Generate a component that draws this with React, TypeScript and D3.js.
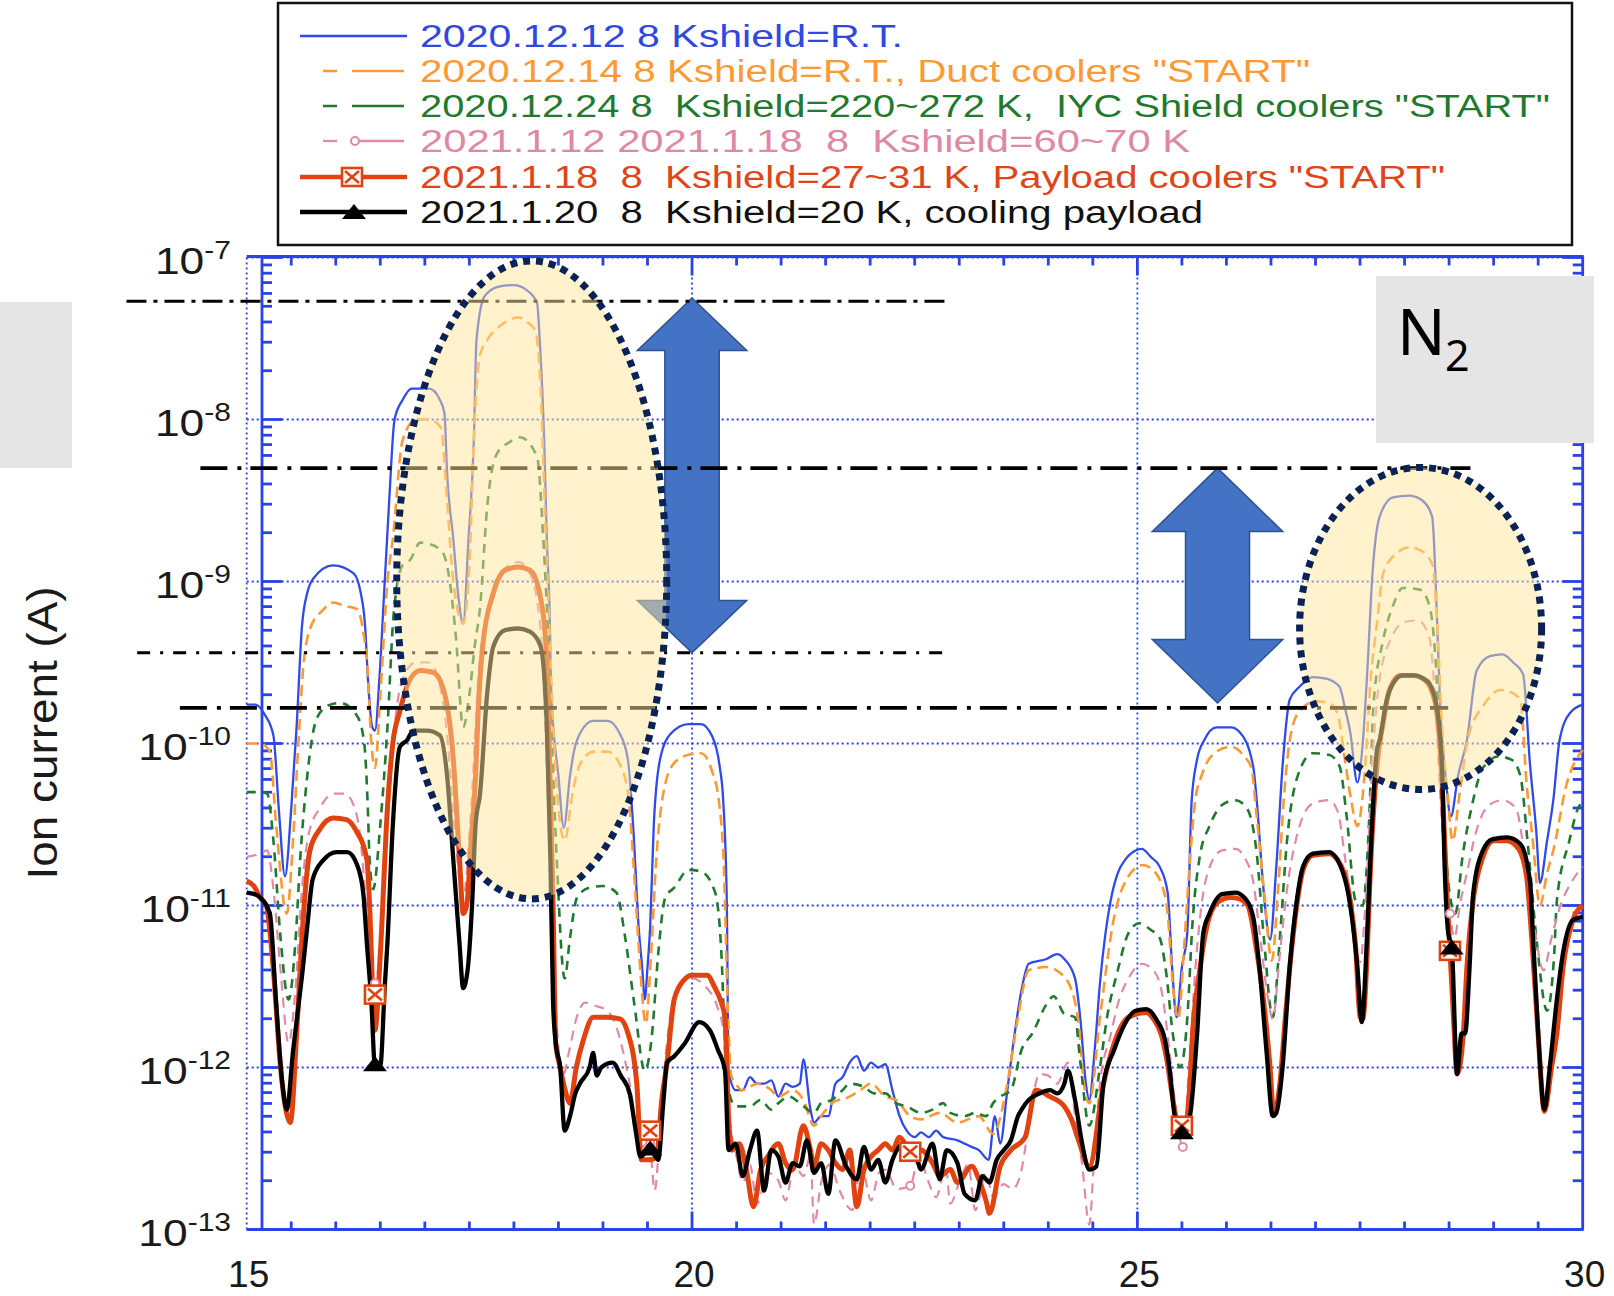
import React from 'react';
import * as d3 from 'd3';

type Pt = [number, number]; // [mass number, log10 of ion current in A]

const blueRT: Pt[] = [
  [15.0,-9.76],[15.1,-9.76],[15.2,-9.82],[15.3,-9.95],[15.36,-10.4],[15.43,-10.82],[15.5,-10.4],[15.56,-9.9],[15.62,-9.28],[15.68,-9.07],[15.75,-8.98],[15.97,-8.9],[16.2,-8.95],[16.28,-9.07],[16.33,-9.28],[16.36,-9.59],[16.41,-9.9],[16.44,-9.92],[16.49,-9.6],[16.54,-9.1],[16.6,-8.5],[16.66,-8.0],[16.75,-7.88],[16.85,-7.81],[17.05,-7.81],[17.17,-7.88],[17.22,-7.96],[17.25,-8.33],[17.32,-8.74],[17.38,-9.11],[17.43,-9.26],[17.49,-8.74],[17.55,-8.13],[17.58,-7.51],[17.67,-7.24],[17.83,-7.18],[18.0,-7.17],[18.14,-7.2],[18.26,-7.28],[18.29,-7.51],[18.34,-8.13],[18.37,-8.74],[18.4,-9.16],[18.42,-9.69],[18.5,-10.2],[18.56,-10.52],[18.63,-10.2],[18.67,-10.06],[18.74,-9.94],[18.89,-9.86],[19.05,-9.86],[19.19,-9.94],[19.28,-10.1],[19.34,-10.52],[19.4,-11.13],[19.44,-11.38],[19.47,-11.58],[19.5,-11.38],[19.53,-11.13],[19.57,-10.51],[19.64,-10.1],[19.76,-9.94],[19.96,-9.88],[20.1,-9.88],[20.23,-9.96],[20.31,-10.14],[20.35,-10.35],[20.39,-10.97],[20.41,-12.02],[20.49,-12.14],[20.57,-12.14],[20.65,-12.06],[20.73,-12.1],[20.81,-12.1],[20.89,-12.08],[20.97,-12.18],[21.05,-12.1],[21.13,-12.12],[21.21,-12.1],[21.25,-11.95],[21.33,-12.26],[21.37,-12.34],[21.45,-12.3],[21.53,-12.3],[21.61,-12.1],[21.69,-12.06],[21.77,-11.97],[21.85,-11.93],[21.93,-12.02],[22.01,-11.97],[22.09,-12.0],[22.17,-11.98],[22.25,-12.14],[22.33,-12.3],[22.41,-12.39],[22.5,-12.43],[22.57,-12.4],[22.66,-12.43],[22.74,-12.39],[22.82,-12.43],[22.98,-12.45],[23.06,-12.47],[23.14,-12.49],[23.22,-12.51],[23.33,-12.57],[23.4,-12.3],[23.46,-12.47],[23.54,-12.14],[23.62,-11.8],[23.7,-11.52],[23.78,-11.36],[23.98,-11.33],[24.1,-11.3],[24.18,-11.33],[24.3,-11.45],[24.36,-11.7],[24.42,-12.09],[24.46,-12.2],[24.52,-11.9],[24.58,-11.48],[24.64,-11.18],[24.7,-10.97],[24.78,-10.8],[24.86,-10.72],[24.98,-10.66],[25.05,-10.65],[25.15,-10.7],[25.25,-10.76],[25.34,-10.92],[25.39,-11.38],[25.44,-11.69],[25.5,-11.38],[25.56,-11.17],[25.61,-10.35],[25.67,-10.1],[25.75,-9.98],[25.89,-9.9],[26.05,-9.9],[26.15,-9.93],[26.3,-10.14],[26.34,-10.35],[26.41,-10.86],[26.49,-11.21],[26.56,-10.76],[26.63,-10.14],[26.71,-9.73],[26.82,-9.65],[26.97,-9.59],[27.12,-9.6],[27.27,-9.65],[27.33,-9.78],[27.39,-9.93],[27.47,-10.24],[27.53,-10.0],[27.58,-9.57],[27.64,-8.95],[27.72,-8.6],[27.87,-8.48],[28.05,-8.47],[28.2,-8.5],[28.31,-8.6],[28.36,-9.16],[28.4,-9.77],[28.46,-10.2],[28.52,-10.45],[28.6,-10.2],[28.7,-9.98],[28.81,-9.55],[28.96,-9.46],[29.1,-9.45],[29.22,-9.5],[29.33,-9.57],[29.41,-10.14],[29.48,-10.55],[29.52,-10.86],[29.6,-10.6],[29.67,-10.35],[29.74,-9.98],[29.86,-9.81],[30.0,-9.76]
];

const orangeDuct: Pt[] = [
  [15.0,-10.0],[15.15,-10.0],[15.26,-10.05],[15.33,-10.5],[15.45,-11.05],[15.52,-10.6],[15.58,-10.0],[15.64,-9.5],[15.72,-9.28],[15.85,-9.18],[15.97,-9.13],[16.1,-9.15],[16.24,-9.17],[16.32,-9.35],[16.35,-9.48],[16.4,-10.0],[16.44,-10.15],[16.5,-9.7],[16.58,-9.0],[16.64,-8.74],[16.75,-8.13],[16.9,-8.0],[17.05,-8.0],[17.18,-8.05],[17.25,-8.5],[17.32,-9.0],[17.43,-9.26],[17.5,-8.9],[17.56,-8.0],[17.62,-7.6],[17.7,-7.51],[17.85,-7.42],[18.05,-7.37],[18.15,-7.4],[18.24,-7.45],[18.3,-7.8],[18.35,-8.6],[18.4,-9.3],[18.45,-10.0],[18.57,-10.6],[18.66,-10.3],[18.75,-10.12],[18.9,-10.05],[19.05,-10.05],[19.18,-10.12],[19.28,-10.3],[19.35,-10.8],[19.42,-11.4],[19.48,-11.73],[19.54,-11.3],[19.6,-10.7],[19.68,-10.3],[19.8,-10.12],[19.96,-10.07],[20.1,-10.06],[20.23,-10.18],[20.3,-10.35],[20.36,-10.8],[20.4,-11.6],[20.44,-12.05],[20.49,-12.1],[20.57,-12.14],[20.73,-12.1],[20.89,-12.14],[20.97,-12.18],[21.13,-12.14],[21.25,-12.2],[21.37,-12.36],[21.45,-12.3],[21.57,-12.22],[21.77,-12.18],[21.89,-12.14],[22.01,-12.1],[22.17,-12.18],[22.29,-12.2],[22.45,-12.3],[22.57,-12.32],[22.78,-12.28],[22.98,-12.34],[23.22,-12.3],[23.38,-12.41],[23.54,-12.1],[23.66,-11.69],[23.78,-11.4],[23.98,-11.38],[24.14,-11.42],[24.26,-11.52],[24.34,-11.73],[24.4,-12.1],[24.46,-12.22],[24.58,-11.69],[24.74,-11.07],[24.9,-10.82],[25.06,-10.75],[25.15,-10.77],[25.28,-10.88],[25.34,-11.05],[25.4,-11.5],[25.46,-11.7],[25.52,-11.3],[25.58,-10.8],[25.65,-10.35],[25.72,-10.2],[25.89,-10.05],[26.05,-10.02],[26.2,-10.08],[26.28,-10.15],[26.34,-10.45],[26.42,-10.9],[26.51,-11.34],[26.58,-10.9],[26.65,-10.3],[26.72,-9.95],[26.82,-9.8],[27.0,-9.74],[27.15,-9.75],[27.25,-9.82],[27.33,-10.1],[27.4,-10.35],[27.47,-10.51],[27.55,-10.2],[27.62,-9.6],[27.69,-9.26],[27.76,-8.95],[27.9,-8.83],[28.05,-8.79],[28.15,-8.8],[28.31,-8.89],[28.37,-9.3],[28.42,-9.9],[28.48,-10.3],[28.54,-10.6],[28.62,-10.3],[28.72,-9.95],[28.88,-9.77],[29.07,-9.67],[29.18,-9.68],[29.3,-9.73],[29.37,-10.25],[29.44,-10.6],[29.52,-11.0],[29.6,-10.8],[29.67,-10.66],[29.82,-10.25],[30.0,-10.04]
];

const greenIYC: Pt[] = [
  [15.0,-10.3],[15.15,-10.3],[15.23,-10.31],[15.3,-10.6],[15.38,-11.2],[15.47,-11.58],[15.55,-11.2],[15.6,-10.72],[15.68,-10.2],[15.79,-9.84],[15.94,-9.76],[16.05,-9.75],[16.24,-9.83],[16.32,-10.0],[16.36,-10.4],[16.38,-10.72],[16.42,-10.9],[16.5,-10.5],[16.58,-9.9],[16.65,-9.2],[16.75,-8.9],[16.83,-8.87],[16.95,-8.76],[17.06,-8.77],[17.2,-8.82],[17.28,-9.0],[17.35,-9.35],[17.43,-9.9],[17.5,-9.7],[17.56,-9.4],[17.62,-9.16],[17.7,-8.54],[17.81,-8.21],[17.95,-8.14],[18.07,-8.11],[18.26,-8.23],[18.33,-8.74],[18.37,-9.16],[18.42,-9.9],[18.48,-10.7],[18.57,-11.45],[18.63,-11.2],[18.71,-10.95],[18.85,-10.89],[19.0,-10.88],[19.15,-10.92],[19.25,-11.2],[19.35,-11.6],[19.47,-12.02],[19.55,-11.8],[19.62,-11.3],[19.7,-10.95],[19.8,-10.89],[19.96,-10.78],[20.1,-10.79],[20.26,-10.92],[20.33,-11.3],[20.38,-12.0],[20.41,-12.14],[20.49,-12.24],[20.65,-12.24],[20.77,-12.2],[20.89,-12.26],[20.97,-12.22],[21.09,-12.18],[21.21,-12.22],[21.37,-12.28],[21.45,-12.22],[21.57,-12.2],[21.69,-12.14],[21.77,-12.1],[21.93,-12.12],[22.05,-12.16],[22.17,-12.16],[22.29,-12.22],[22.41,-12.24],[22.57,-12.28],[22.7,-12.26],[22.82,-12.22],[22.9,-12.28],[23.06,-12.3],[23.18,-12.28],[23.3,-12.3],[23.38,-12.22],[23.46,-12.18],[23.58,-12.14],[23.7,-11.89],[23.82,-11.79],[23.98,-11.61],[24.06,-11.56],[24.18,-11.67],[24.3,-11.69],[24.36,-11.97],[24.46,-12.36],[24.58,-12.0],[24.66,-11.69],[24.78,-11.4],[24.9,-11.17],[25.02,-11.11],[25.15,-11.15],[25.25,-11.2],[25.32,-11.4],[25.4,-11.8],[25.48,-12.0],[25.56,-11.7],[25.62,-11.1],[25.7,-10.7],[25.81,-10.51],[25.95,-10.38],[26.1,-10.35],[26.23,-10.4],[26.34,-10.68],[26.42,-11.2],[26.52,-11.69],[26.6,-11.2],[26.68,-10.6],[26.8,-10.2],[26.97,-10.06],[27.15,-10.07],[27.27,-10.14],[27.35,-10.45],[27.45,-10.97],[27.53,-11.0],[27.6,-10.5],[27.65,-9.77],[27.76,-9.36],[27.87,-9.15],[27.98,-9.04],[28.17,-9.05],[28.28,-9.15],[28.35,-9.5],[28.42,-10.3],[28.5,-10.9],[28.57,-11.05],[28.65,-10.7],[28.75,-10.4],[28.88,-10.15],[29.05,-10.08],[29.2,-10.1],[29.3,-10.2],[29.38,-10.6],[29.48,-11.2],[29.6,-11.65],[29.68,-11.3],[29.71,-10.97],[29.85,-10.6],[29.94,-10.41],[30.0,-10.36]
];

const pinkShield: Pt[] = [
  [15.0,-10.7],[15.15,-10.68],[15.23,-10.66],[15.3,-10.9],[15.38,-11.4],[15.47,-11.85],[15.55,-11.5],[15.62,-10.9],[15.7,-10.55],[15.82,-10.4],[15.97,-10.31],[16.1,-10.31],[16.2,-10.38],[16.28,-10.6],[16.34,-11.0],[16.4,-11.45],[16.44,-11.55],[16.5,-11.2],[16.58,-10.5],[16.66,-9.9],[16.75,-9.6],[16.9,-9.5],[17.05,-9.5],[17.15,-9.6],[17.25,-9.95],[17.33,-10.5],[17.43,-10.95],[17.52,-10.4],[17.6,-9.6],[17.7,-9.2],[17.85,-8.95],[18.05,-8.88],[18.18,-8.95],[18.3,-9.3],[18.38,-10.3],[18.45,-11.4],[18.55,-12.05],[18.62,-11.9],[18.7,-11.7],[18.8,-11.6],[18.92,-11.62],[19.05,-11.65],[19.15,-11.75],[19.3,-12.1],[19.42,-12.5],[19.52,-12.45],[19.58,-12.76],[19.66,-12.2],[19.75,-11.7],[19.85,-11.5],[20.0,-11.45],[20.15,-11.5],[20.28,-11.62],[20.36,-11.8],[20.42,-12.3],[20.5,-12.55],[20.57,-12.71],[20.65,-12.6],[20.73,-12.84],[20.85,-12.65],[20.97,-12.7],[21.05,-12.82],[21.15,-12.6],[21.25,-12.67],[21.33,-12.55],[21.37,-12.97],[21.45,-12.71],[21.55,-12.6],[21.65,-12.75],[21.8,-12.88],[21.9,-12.6],[22.01,-12.82],[22.1,-12.65],[22.17,-12.63],[22.3,-12.75],[22.45,-12.73],[22.55,-12.55],[22.65,-12.7],[22.74,-12.8],[22.85,-12.62],[22.9,-12.84],[23.0,-12.71],[23.1,-12.6],[23.18,-12.88],[23.3,-12.65],[23.38,-12.8],[23.5,-12.72],[23.6,-12.75],[23.7,-12.63],[23.78,-12.36],[23.9,-12.04],[24.0,-12.05],[24.1,-12.1],[24.22,-11.97],[24.3,-12.3],[24.38,-12.6],[24.46,-12.97],[24.52,-12.5],[24.58,-12.1],[24.7,-11.8],[24.78,-11.61],[24.9,-11.45],[25.05,-11.36],[25.18,-11.4],[25.28,-11.55],[25.36,-11.9],[25.44,-12.3],[25.51,-12.49],[25.58,-12.0],[25.65,-11.4],[25.72,-11.0],[25.82,-10.75],[25.95,-10.66],[26.1,-10.65],[26.22,-10.72],[26.3,-10.85],[26.38,-11.2],[26.46,-11.55],[26.52,-11.7],[26.6,-11.3],[26.68,-10.9],[26.8,-10.55],[26.97,-10.37],[27.15,-10.35],[27.25,-10.42],[27.33,-10.7],[27.42,-11.1],[27.5,-11.35],[27.57,-10.9],[27.64,-10.1],[27.72,-9.6],[27.85,-9.35],[28.0,-9.25],[28.15,-9.24],[28.28,-9.35],[28.34,-9.7],[28.42,-10.5],[28.51,-11.05],[28.56,-11.2],[28.62,-11.0],[28.7,-10.8],[28.8,-10.55],[28.95,-10.38],[29.1,-10.35],[29.25,-10.4],[29.35,-10.7],[29.45,-11.1],[29.56,-11.4],[29.65,-11.2],[29.75,-11.0],[29.88,-10.85],[30.0,-10.76]
];

const redPayload: Pt[] = [
  [15.0,-10.85],[15.08,-10.88],[15.15,-10.95],[15.22,-11.0],[15.3,-11.4],[15.38,-12.0],[15.49,-12.34],[15.56,-11.8],[15.62,-11.2],[15.71,-10.66],[15.82,-10.53],[15.97,-10.46],[16.12,-10.47],[16.22,-10.53],[16.35,-10.72],[16.38,-11.0],[16.42,-11.6],[16.44,-11.77],[16.5,-11.3],[16.58,-10.4],[16.64,-10.0],[16.72,-9.8],[16.82,-9.62],[16.95,-9.55],[17.09,-9.56],[17.2,-9.65],[17.32,-10.1],[17.39,-10.72],[17.43,-11.05],[17.47,-11.0],[17.52,-10.6],[17.57,-10.2],[17.6,-9.79],[17.65,-9.4],[17.77,-9.07],[17.9,-8.93],[18.05,-8.91],[18.18,-8.93],[18.28,-9.05],[18.37,-9.48],[18.41,-10.31],[18.44,-11.0],[18.47,-11.85],[18.52,-12.0],[18.58,-12.15],[18.63,-12.22],[18.7,-12.0],[18.78,-11.83],[18.89,-11.69],[19.05,-11.69],[19.19,-11.7],[19.27,-11.77],[19.38,-12.1],[19.43,-12.57],[19.52,-12.57],[19.6,-12.55],[19.66,-12.2],[19.72,-11.97],[19.8,-11.58],[19.91,-11.46],[20.0,-11.43],[20.17,-11.43],[20.25,-11.5],[20.33,-11.6],[20.37,-11.69],[20.41,-12.3],[20.45,-12.51],[20.53,-12.47],[20.61,-12.63],[20.69,-12.86],[20.77,-12.63],[20.85,-12.55],[20.97,-12.47],[21.05,-12.59],[21.13,-12.63],[21.25,-12.36],[21.33,-12.51],[21.37,-12.61],[21.45,-12.47],[21.53,-12.51],[21.61,-12.59],[21.69,-12.63],[21.77,-12.51],[21.85,-12.86],[21.93,-12.63],[22.01,-12.55],[22.09,-12.51],[22.17,-12.47],[22.25,-12.51],[22.33,-12.43],[22.45,-12.51],[22.57,-12.51],[22.7,-12.59],[22.78,-12.67],[22.9,-12.63],[22.98,-12.71],[23.14,-12.61],[23.22,-12.69],[23.3,-12.82],[23.34,-12.9],[23.46,-12.61],[23.58,-12.51],[23.74,-12.43],[23.86,-12.14],[24.02,-12.18],[24.18,-12.24],[24.26,-12.32],[24.34,-12.45],[24.46,-12.61],[24.62,-12.1],[24.74,-11.85],[24.9,-11.69],[25.1,-11.66],[25.18,-11.7],[25.27,-11.8],[25.33,-11.95],[25.4,-12.2],[25.47,-12.38],[25.53,-12.38],[25.59,-12.1],[25.62,-11.79],[25.7,-11.4],[25.78,-11.13],[25.9,-10.98],[26.05,-10.95],[26.15,-10.96],[26.24,-11.0],[26.34,-11.28],[26.42,-11.6],[26.49,-12.0],[26.53,-12.28],[26.6,-12.1],[26.66,-11.7],[26.71,-11.39],[26.79,-11.0],[26.86,-10.78],[26.97,-10.69],[27.15,-10.68],[27.25,-10.72],[27.39,-10.97],[27.45,-11.25],[27.5,-11.69],[27.53,-11.7],[27.58,-11.3],[27.61,-10.86],[27.69,-10.14],[27.76,-9.87],[27.83,-9.67],[27.95,-9.58],[28.1,-9.58],[28.21,-9.6],[28.3,-9.67],[28.36,-9.8],[28.4,-10.04],[28.43,-10.35],[28.48,-10.97],[28.51,-11.28],[28.55,-11.7],[28.59,-12.04],[28.66,-11.79],[28.7,-11.38],[28.77,-10.97],[28.88,-10.7],[29.0,-10.6],[29.15,-10.6],[29.28,-10.65],[29.37,-10.82],[29.44,-11.3],[29.5,-11.8],[29.57,-12.27],[29.65,-12.0],[29.71,-11.79],[29.78,-11.38],[29.89,-11.09],[30.0,-11.0]
];

const blackCooling: Pt[] = [
  [15.0,-10.92],[15.09,-10.93],[15.15,-10.95],[15.26,-11.05],[15.33,-11.6],[15.4,-12.1],[15.45,-12.26],[15.52,-11.9],[15.62,-11.44],[15.68,-11.13],[15.74,-10.84],[15.86,-10.72],[16.01,-10.67],[16.13,-10.67],[16.24,-10.75],[16.31,-10.93],[16.35,-11.24],[16.4,-11.6],[16.44,-11.99],[16.5,-11.99],[16.55,-11.5],[16.58,-11.23],[16.64,-10.51],[16.72,-10.02],[16.8,-9.98],[16.87,-9.92],[17.02,-9.92],[17.17,-9.95],[17.25,-10.2],[17.32,-10.72],[17.39,-11.24],[17.43,-11.51],[17.48,-11.4],[17.53,-11.0],[17.57,-10.5],[17.62,-10.31],[17.7,-9.69],[17.77,-9.4],[17.9,-9.3],[18.05,-9.29],[18.18,-9.31],[18.3,-9.4],[18.37,-9.9],[18.41,-10.72],[18.44,-11.6],[18.47,-11.85],[18.52,-12.0],[18.57,-12.39],[18.63,-12.3],[18.69,-12.16],[18.74,-12.1],[18.85,-12.0],[18.89,-11.91],[18.93,-12.05],[18.98,-12.0],[19.11,-11.97],[19.2,-12.05],[19.3,-12.16],[19.37,-12.4],[19.42,-12.55],[19.53,-12.5],[19.62,-12.57],[19.68,-12.2],[19.72,-11.97],[19.8,-11.93],[19.92,-11.85],[20.08,-11.72],[20.2,-11.77],[20.29,-11.89],[20.37,-12.02],[20.41,-12.51],[20.49,-12.47],[20.57,-12.67],[20.65,-12.51],[20.73,-12.39],[20.81,-12.76],[20.89,-12.51],[20.97,-12.55],[21.05,-12.71],[21.13,-12.59],[21.21,-12.61],[21.29,-12.45],[21.37,-12.65],[21.45,-12.59],[21.53,-12.78],[21.61,-12.45],[21.73,-12.61],[21.85,-12.69],[21.93,-12.49],[22.01,-12.63],[22.09,-12.57],[22.17,-12.71],[22.25,-12.57],[22.37,-12.47],[22.5,-12.51],[22.57,-12.63],[22.7,-12.47],[22.78,-12.69],[22.86,-12.51],[22.98,-12.59],[23.06,-12.78],[23.18,-12.82],[23.26,-12.67],[23.34,-12.71],[23.42,-12.57],[23.5,-12.51],[23.58,-12.45],[23.66,-12.3],[23.7,-12.26],[23.78,-12.2],[23.9,-12.16],[24.02,-12.14],[24.1,-12.16],[24.18,-12.1],[24.22,-12.02],[24.3,-12.2],[24.38,-12.47],[24.46,-12.63],[24.54,-12.61],[24.62,-12.1],[24.74,-11.89],[24.86,-11.73],[24.98,-11.65],[25.1,-11.64],[25.22,-11.71],[25.31,-11.83],[25.36,-12.0],[25.42,-12.3],[25.5,-12.4],[25.55,-12.35],[25.59,-12.3],[25.67,-11.8],[25.74,-11.17],[25.81,-11.05],[25.95,-10.93],[26.1,-10.92],[26.2,-10.95],[26.3,-11.07],[26.37,-11.38],[26.45,-11.9],[26.52,-12.3],[26.56,-12.28],[26.63,-12.0],[26.71,-11.38],[26.79,-10.97],[26.86,-10.76],[26.97,-10.68],[27.15,-10.67],[27.31,-10.8],[27.39,-11.0],[27.47,-11.38],[27.52,-11.72],[27.58,-11.17],[27.63,-10.55],[27.69,-10.04],[27.72,-9.98],[27.8,-9.73],[27.87,-9.63],[27.98,-9.58],[28.12,-9.58],[28.21,-9.6],[28.28,-9.63],[28.36,-9.77],[28.42,-10.14],[28.45,-10.76],[28.49,-11.17],[28.53,-11.26],[28.59,-12.04],[28.64,-11.79],[28.68,-11.79],[28.73,-11.38],[28.77,-10.93],[28.88,-10.66],[28.99,-10.59],[29.15,-10.58],[29.3,-10.62],[29.41,-10.86],[29.44,-11.17],[29.5,-11.79],[29.57,-12.26],[29.63,-12.0],[29.71,-11.58],[29.78,-11.29],[29.89,-11.09],[30.0,-11.07]
];

// marker positions drawn on the lines
const pinkMarks: Pt[] = [[16.44,-11.48],[19.53,-12.47],[22.45,-12.73],[25.51,-12.49],[28.51,-11.05]];
const redMarks: Pt[] = [[16.44,-11.55],[19.53,-12.39],[22.45,-12.52],[25.5,-12.36],[28.51,-11.28]];
const blackMarks: Pt[] = [[16.44,-11.98],[19.53,-12.5],[25.5,-12.4],[28.53,-11.26]];

const legendLabels = [
  '2020.12.12 8 Kshield=R.T.',
  '2020.12.14 8 Kshield=R.T., Duct coolers "START"',
  '2020.12.24 8  Kshield=220~272 K,  IYC Shield coolers "START"',
  '2021.1.12 2021.1.18  8  Kshield=60~70 K',
  '2021.1.18  8  Kshield=27~31 K, Payload coolers "START"',
  '2021.1.20  8  Kshield=20 K, cooling payload',
];
const legendWidths = [483, 890, 1130, 770, 1025, 783];
const legendColors = ['#3048e0', '#ff9933', '#1f7a30', '#dd88a6', '#e0451a', '#111111'];

const massLabels = [15, 20, 25, 30];
const decades = [-7, -8, -9, -10, -11, -12, -13];

// dash-dot reference levels: [log10 level, from mass, to mass, dash pattern]
const refLevels: [number, number, number, string][] = [
  [-7.27, 13.65, 22.85, '20 7 4 7'],
  [-8.3, 14.48, 28.74, '27 10 4 9'],
  [-9.44, 13.77, 22.85, '13 10 3 10'],
  [-9.78, 14.25, 28.49, '27 10 4 9'],
];

const W = 1614;
const H = 1296;
const X0 = 246.7;
const X1 = 1582.7;
const Y_TOP = 257.5;
const Y_BOT = 1229.5;
const AXIS_X = 262;
const AXIS_BLUE = '#2a42e8';

export default function App() {
  const x = d3.scaleLinear().domain([15, 30]).range([X0, X1]);
  const y = d3.scaleLog().domain([1e-13, 1e-7]).range([Y_BOT, Y_TOP]);
  const ye = (e: number) => y(Math.pow(10, e));

  const line = d3.line<Pt>()
    .x(d => x(d[0]))
    .y(d => ye(d[1]))
    .curve(d3.curveMonotoneX);

  const series = [
    { data: blueRT, color: '#2f4ae8', width: 2.3, dash: undefined },
    { data: orangeDuct, color: '#ff9933', width: 2.6, dash: '11 6' },
    { data: greenIYC, color: '#1f7a30', width: 2.6, dash: '9 7' },
    { data: pinkShield, color: '#e08aa8', width: 2.2, dash: '10 7' },
    { data: redPayload, color: '#e0430f', width: 5, dash: undefined },
    { data: blackCooling, color: '#000000', width: 4.3, dash: undefined },
  ];

  const yTicks = y.ticks();
  const isDecade = (t: number) => Math.abs(Math.log10(t) - Math.round(Math.log10(t))) < 1e-6;
  const xMinor = d3.range(15.5, 30, 0.5).filter(m => m % 5 !== 0);

  const square = (cx: number, cy: number, key: string) => (
    <g key={key} stroke="#e0430f" strokeWidth={2.6} fill="#fff">
      <rect x={cx - 10} y={cy - 9} width={20} height={18} />
      <line x1={cx - 7} y1={cy - 6} x2={cx + 7} y2={cy + 6} />
      <line x1={cx + 7} y1={cy - 6} x2={cx - 7} y2={cy + 6} />
    </g>
  );
  const triangle = (cx: number, cy: number, key: string) => (
    <path key={key} d={`M${cx - 12},${cy + 7}L${cx},${cy - 8}L${cx + 12},${cy + 7}Z`} fill="#000" />
  );
  const circle = (cx: number, cy: number, key: string) => (
    <circle key={key} cx={cx} cy={cy} r={4} fill="#fff" stroke="#e08aa8" strokeWidth={2} />
  );

  const arrow = (m: number, top: number, bottom: number, headHalf: number, headH: number, shaftHalf: number) => {
    const cx = x(m);
    const t = ye(top);
    const b = ye(bottom);
    const pts = [
      [cx, t], [cx + headHalf, t + headH], [cx + shaftHalf, t + headH],
      [cx + shaftHalf, b - headH], [cx + headHalf, b - headH], [cx, b],
      [cx - headHalf, b - headH], [cx - shaftHalf, b - headH],
      [cx - shaftHalf, t + headH], [cx - headHalf, t + headH],
    ];
    return <polygon points={pts.map(p => p.join(',')).join(' ')} fill="#4472C4" stroke="#2F528F" strokeWidth={1.5} />;
  };

  const rowY = [36, 71, 106, 141, 177, 212];

  return (
    <svg width={W} height={H} style={{ position: 'absolute', left: 0, top: 0, background: '#fff' }}
      fontFamily="'Liberation Sans', Arial, Helvetica, sans-serif">
      <rect x={0} y={0} width={W} height={H} fill="#fff" />

      {/* dotted grid */}
      <g stroke={AXIS_BLUE} strokeWidth={1.8} strokeDasharray="2 3" fill="none">
        {decades.map(d => (
          <line key={`gy${d}`} x1={X0} x2={X1} y1={ye(d)} y2={ye(d)} />
        ))}
        {massLabels.map(m => (
          <line key={`gx${m}`} x1={x(m)} x2={x(m)} y1={Y_TOP} y2={Y_BOT} />
        ))}
      </g>

      {/* axes */}
      <g stroke={AXIS_BLUE} strokeWidth={2.8} fill="none">
        <line x1={AXIS_X} x2={AXIS_X} y1={Y_TOP - 1} y2={Y_BOT} />
        <line x1={X1} x2={X1} y1={Y_TOP - 1} y2={Y_BOT} />
        <line x1={X0} x2={X1 + 1} y1={Y_BOT} y2={Y_BOT} />
        <line x1={X0} x2={X1 + 1} y1={Y_TOP - 1} y2={Y_TOP - 1} />
        {yTicks.map((t, i) => {
          const len = isDecade(t) ? 20 : 10;
          const yy = y(t);
          return (
            <g key={`yt${i}`}>
              <line x1={AXIS_X} x2={AXIS_X + len} y1={yy} y2={yy} />
              <line x1={X1} x2={X1 - len} y1={yy} y2={yy} />
            </g>
          );
        })}
        {xMinor.map(m => (
          <g key={`xt${m}`}>
            <line x1={x(m)} x2={x(m)} y1={Y_BOT} y2={Y_BOT - 8} />
            <line x1={x(m)} x2={x(m)} y1={Y_TOP} y2={Y_TOP + 8} />
          </g>
        ))}
        {[20, 25].map(m => (
          <g key={`xM${m}`}>
            <line x1={x(m)} x2={x(m)} y1={Y_BOT} y2={Y_BOT - 18} />
            <line x1={x(m)} x2={x(m)} y1={Y_TOP} y2={Y_TOP + 18} />
          </g>
        ))}
      </g>

      {/* spectra */}
      {series.map((s, i) => (
        <path key={`s${i}`} d={line(s.data) || ''} fill="none" stroke={s.color}
          strokeWidth={s.width} strokeDasharray={s.dash} strokeLinejoin="round" />
      ))}
      {pinkMarks.map((p, i) => circle(x(p[0]), ye(p[1]), `pm${i}`))}
      {redMarks.map((p, i) => square(x(p[0]), ye(p[1]), `rm${i}`))}
      {blackMarks.map((p, i) => triangle(x(p[0]), ye(p[1]), `bm${i}`))}

      {/* annotation arrows */}
      {arrow(20.0, -7.25, -9.44, 54.7, 52.4, 27.2)}
      {arrow(25.9, -8.3, -9.75, 65.2, 63.4, 32)}

      {/* dash-dot reference levels */}
      {refLevels.map(([lv, a, b, dash], i) => (
        <line key={`ref${i}`} x1={x(a)} x2={x(b)} y1={ye(lv)} y2={ye(lv)}
          stroke="#000" strokeWidth={i % 2 ? 3.6 : 3} strokeDasharray={dash} />
      ))}

      {/* highlighted peak groups */}
      <ellipse cx={x(18.2)} cy={ye(-8.99)} rx={135} ry={319} fill="#FFE699" fillOpacity={0.5} />
      <ellipse cx={x(28.18)} cy={ye(-9.29)} rx={121} ry={161} fill="#FFE699" fillOpacity={0.5} />
      <ellipse cx={x(18.2)} cy={ye(-8.99)} rx={135} ry={319} fill="none" stroke="#0b2255" strokeWidth={7} strokeDasharray="7 6" />
      <ellipse cx={x(28.18)} cy={ye(-9.29)} rx={121} ry={161} fill="none" stroke="#0b2255" strokeWidth={7} strokeDasharray="7 6" />

      {/* gray label boxes */}
      <rect x={0} y={302} width={72} height={166} fill="#e5e5e5" />
      <rect x={1376} y={276} width={218} height={167} fill="#e5e5e5" />
      <text x={1397} y={355} fontFamily="'Noto Sans', 'Open Sans', sans-serif" fontSize={64} fill="#000">N</text>
      <text x={1445} y={371} fontFamily="'Noto Sans', 'Open Sans', sans-serif" fontSize={43} fill="#000">2</text>

      {/* legend */}
      <rect x={278} y={3} width={1294} height={242} fill="#fff" stroke="#111" strokeWidth={2.5} />
      <g fill="none">
        <line x1={300} x2={407} y1={rowY[0]} y2={rowY[0]} stroke="#2f4ae8" strokeWidth={2.5} />
        <line x1={323} x2={337} y1={rowY[1]} y2={rowY[1]} stroke="#ff9933" strokeWidth={2.5} />
        <line x1={352} x2={404} y1={rowY[1]} y2={rowY[1]} stroke="#ff9933" strokeWidth={2.5} />
        <line x1={323} x2={337} y1={rowY[2]} y2={rowY[2]} stroke="#1f7a30" strokeWidth={2.5} />
        <line x1={352} x2={404} y1={rowY[2]} y2={rowY[2]} stroke="#1f7a30" strokeWidth={2.5} />
        <line x1={323} x2={337} y1={rowY[3]} y2={rowY[3]} stroke="#e08aa8" strokeWidth={2.3} />
        <line x1={359} x2={404} y1={rowY[3]} y2={rowY[3]} stroke="#e08aa8" strokeWidth={2.3} />
        <line x1={300} x2={407} y1={rowY[4]} y2={rowY[4]} stroke="#e0430f" strokeWidth={4.5} />
        <line x1={300} x2={407} y1={rowY[5]} y2={rowY[5]} stroke="#000" strokeWidth={4.5} />
      </g>
      {circle(355, rowY[3], 'lc')}
      {square(352, rowY[4], 'ls')}
      {triangle(354, rowY[5], 'lt')}
      {legendLabels.map((t, i) => (
        <text key={`lg${i}`} x={420} y={rowY[i] + 11} fontSize={31} fill={legendColors[i]}
          textLength={legendWidths[i]} lengthAdjust="spacingAndGlyphs" style={{ whiteSpace: 'pre' }}>{t}</text>
      ))}

      {/* tick labels */}
      {decades.map(d => (
        <g key={`yl${d}`} transform={`translate(231,${ye(d) + 16}) scale(1.2,1)`}>
          <text x={0} y={0} textAnchor="end" fontSize={37} fill="#1a1a1a">
            10<tspan dy={-15} fontSize={25}>{`-${-d}`}</tspan>
          </text>
        </g>
      ))}
      {massLabels.map(m => (
        <text key={`xl${m}`} x={x(m) + 2} y={1287} textAnchor="middle" fontSize={37} fill="#1a1a1a">{m}</text>
      ))}
      <text transform="translate(57,733) rotate(-90)" textAnchor="middle" fontSize={42} fill="#1a1a1a"
        textLength={293} lengthAdjust="spacingAndGlyphs">Ion current (A)</text>
    </svg>
  );
}
